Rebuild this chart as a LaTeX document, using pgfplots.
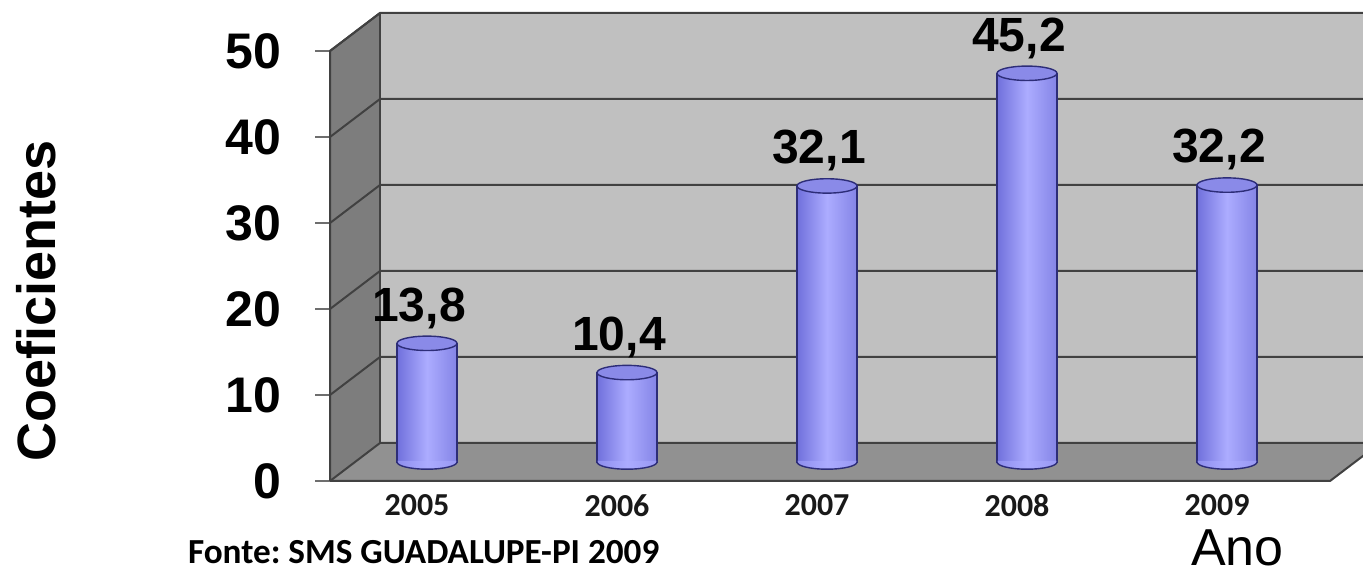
\documentclass[border=0pt]{standalone}
\usepackage{fontspec}
\setmainfont{Liberation Sans}
\newfontfamily\carlito{Carlito}
\usepackage{pgfplots}
\usepackage{pgfplotstable}
\pgfplotsset{compat=1.18}

\definecolor{backwall}{RGB}{192,192,192}
\definecolor{sidewall}{RGB}{125,125,125}
\definecolor{floorc}{RGB}{145,145,145}
\definecolor{gridc}{RGB}{65,65,65}
\definecolor{tickc}{RGB}{110,110,110}
\definecolor{cylL}{RGB}{112,112,220}
\definecolor{cylM}{RGB}{172,172,255}
\definecolor{cylR}{RGB}{132,132,230}
\definecolor{cyltopc}{RGB}{138,138,232}
\definecolor{cyledge}{RGB}{45,45,120}

\pgfdeclarehorizontalshading{cylsh}{100bp}{color(0bp)=(cylL); color(50bp)=(cylM); color(100bp)=(cylR)}

\pgfdeclareplotmark{cyltop}{%
  \pgfpathellipse{\pgfpointorigin}{\pgfqpoint{15pt}{0pt}}{\pgfqpoint{0pt}{3.6pt}}%
  \pgfusepathqfillstroke}
\pgfdeclareplotmark{cylbot}{%
  \pgfpathmoveto{\pgfqpoint{-15pt}{0.6pt}}%
  \pgfpathlineto{\pgfqpoint{-15pt}{0pt}}%
  \pgfpatharc{180}{360}{15pt and 3.6pt}%
  \pgfpathlineto{\pgfqpoint{15pt}{0.6pt}}%
  \pgfpathclose
  \pgfshadepath{cylsh}{0}%
  \pgfusepath{discard}%
  \pgfpathmoveto{\pgfqpoint{-15pt}{0.6pt}}%
  \pgfpathlineto{\pgfqpoint{-15pt}{0pt}}%
  \pgfpatharc{180}{360}{15pt and 3.6pt}%
  \pgfpathlineto{\pgfqpoint{15pt}{0.6pt}}%
  \pgfusepathqstroke}

\pgfplotstableread{
x y base lab
0 13.8 0 {13,8}
1 10.4 0 {10,4}
2 32.1 0 {32,1}
3 45.2 0 {45,2}
4 32.2 0 {32,2}
}\datatable

\pgfplotsset{cyl/.style={ybar, bar width=30pt, draw=cyledge, line width=0.7pt, left color=cylL, right color=cylR, middle color=cylM}}

\begin{document}
\begin{tikzpicture}
\useasboundingbox (0,0) rectangle (681.5pt,288.5pt);
\begin{axis}[
  at={(177.5pt,57.5pt)}, anchor=south west,
  scale only axis, width=500pt, height=215pt,
  xmin=-0.36, xmax=4.64, ymin=0, ymax=50,
  clip=false,
  axis line style={draw=none},
  major tick length=0pt, tick style={draw=none},
  xtick={0,1,2,3,4}, xticklabels={2005,2006,2007,2008,2009},
  ytick={0,10,20,30,40,50}, yticklabels={0,10,20,30,40,50},
  /pgf/number format/assume math mode=true,
  xticklabel style={font=\carlito\bfseries\fontsize{16}{19}\selectfont, inner sep=0pt, anchor=north, yshift=-16pt, xshift=-5pt, text=black!90},
  yticklabel style={font=\bfseries\fontsize{25}{30}\selectfont, inner sep=0pt, anchor=east, xshift=-36.5pt, yshift=-9.5pt},
  ylabel={Coeficientes},
  every axis y label/.style={at={([xshift=-159.5pt,yshift=-27pt]rel axis cs:0,0.5)}, anchor=center, rotate=90, font=\bfseries\fontsize{27}{32}\selectfont},
  xlabel={Ano},
  every axis x label/.style={at={([yshift=-52pt]rel axis cs:0.829,0)}, anchor=base west, font=\fontsize{26}{31}\selectfont},
]
% back wall
\fill[backwall] ([shift={(12.5pt,9.5pt)}]axis cs:-0.36,0) rectangle ([shift={(12.5pt,9.5pt)}]axis cs:4.64,50);
% side wall
\fill[sidewall] ([shift={(-12.5pt,-9.5pt)}]axis cs:-0.36,0) -- ([shift={(-12.5pt,-9.5pt)}]axis cs:-0.36,50) -- ([shift={(12.5pt,9.5pt)}]axis cs:-0.36,50) -- ([shift={(12.5pt,9.5pt)}]axis cs:-0.36,0) -- cycle;
% floor
\fill[floorc] ([shift={(-12.5pt,-9.5pt)}]axis cs:-0.36,0) -- ([shift={(-12.5pt,-9.5pt)}]axis cs:4.64,0) -- ([shift={(12.5pt,9.5pt)}]axis cs:4.64,0) -- ([shift={(12.5pt,9.5pt)}]axis cs:-0.36,0) -- cycle;
% grid lines (side wall diagonal + back wall horizontal)
\draw[gridc, line width=1pt] ([shift={(-12.5pt,-9.5pt)}]axis cs:-0.36,0) -- ([shift={(12.5pt,9.5pt)}]axis cs:-0.36,0) -- ([shift={(12.5pt,9.5pt)}]axis cs:4.64,0);
\draw[gridc, line width=1pt] ([shift={(-12.5pt,-9.5pt)}]axis cs:-0.36,10) -- ([shift={(12.5pt,9.5pt)}]axis cs:-0.36,10) -- ([shift={(12.5pt,9.5pt)}]axis cs:4.64,10);
\draw[gridc, line width=1pt] ([shift={(-12.5pt,-9.5pt)}]axis cs:-0.36,20) -- ([shift={(12.5pt,9.5pt)}]axis cs:-0.36,20) -- ([shift={(12.5pt,9.5pt)}]axis cs:4.64,20);
\draw[gridc, line width=1pt] ([shift={(-12.5pt,-9.5pt)}]axis cs:-0.36,30) -- ([shift={(12.5pt,9.5pt)}]axis cs:-0.36,30) -- ([shift={(12.5pt,9.5pt)}]axis cs:4.64,30);
\draw[gridc, line width=1pt] ([shift={(-12.5pt,-9.5pt)}]axis cs:-0.36,40) -- ([shift={(12.5pt,9.5pt)}]axis cs:-0.36,40) -- ([shift={(12.5pt,9.5pt)}]axis cs:4.64,40);
\draw[gridc, line width=1pt] ([shift={(-12.5pt,-9.5pt)}]axis cs:-0.36,50) -- ([shift={(12.5pt,9.5pt)}]axis cs:-0.36,50) -- ([shift={(12.5pt,9.5pt)}]axis cs:4.64,50);
% tick marks on the front edge
\draw[tickc, line width=1pt] ([shift={(-20pt,-9.5pt)}]axis cs:-0.36,0) -- ([shift={(-12.5pt,-9.5pt)}]axis cs:-0.36,0);
\draw[tickc, line width=1pt] ([shift={(-20pt,-9.5pt)}]axis cs:-0.36,10) -- ([shift={(-12.5pt,-9.5pt)}]axis cs:-0.36,10);
\draw[tickc, line width=1pt] ([shift={(-20pt,-9.5pt)}]axis cs:-0.36,20) -- ([shift={(-12.5pt,-9.5pt)}]axis cs:-0.36,20);
\draw[tickc, line width=1pt] ([shift={(-20pt,-9.5pt)}]axis cs:-0.36,30) -- ([shift={(-12.5pt,-9.5pt)}]axis cs:-0.36,30);
\draw[tickc, line width=1pt] ([shift={(-20pt,-9.5pt)}]axis cs:-0.36,40) -- ([shift={(-12.5pt,-9.5pt)}]axis cs:-0.36,40);
\draw[tickc, line width=1pt] ([shift={(-20pt,-9.5pt)}]axis cs:-0.36,50) -- ([shift={(-12.5pt,-9.5pt)}]axis cs:-0.36,50);
% edges
\draw[gridc, line width=1pt] ([shift={(-12.5pt,-9.5pt)}]axis cs:-0.36,0) -- ([shift={(-12.5pt,-9.5pt)}]axis cs:-0.36,50) -- ([shift={(12.5pt,9.5pt)}]axis cs:-0.36,50);
\draw[gridc, line width=1pt] ([shift={(12.5pt,9.5pt)}]axis cs:-0.36,0) -- ([shift={(12.5pt,9.5pt)}]axis cs:-0.36,50);
\draw[gridc, line width=1pt] ([shift={(-12.5pt,-9.5pt)}]axis cs:-0.36,0) -- ([shift={(-12.5pt,-9.5pt)}]axis cs:4.64,0) -- ([shift={(12.5pt,9.5pt)}]axis cs:4.64,0);

% cylinder bodies, one path per bar so each gets its own shading
\addplot[cyl] table[x=x, y=y, skip coords between index={1}{5}] {\datatable};
\addplot[cyl] table[x=x, y=y, skip coords between index={0}{1}, skip coords between index={2}{5}] {\datatable};
\addplot[cyl] table[x=x, y=y, skip coords between index={0}{2}, skip coords between index={3}{5}] {\datatable};
\addplot[cyl] table[x=x, y=y, skip coords between index={0}{3}, skip coords between index={4}{5}] {\datatable};
\addplot[cyl] table[x=x, y=y, skip coords between index={0}{4}] {\datatable};
% cylinder bottoms and tops
\addplot[only marks, mark=cylbot, mark options={draw=cyledge, line width=0.7pt}]
  table[x=x, y=base] {\datatable};
\addplot[only marks, mark=cyltop, mark options={draw=cyledge, fill=cyltopc, line width=0.7pt},
  point meta=explicit symbolic, nodes near coords,
  every node near coord/.append style={font=\bfseries\fontsize{24}{29}\selectfont, inner sep=0pt, anchor=south, yshift=7pt, xshift=-4pt, text=black}]
  table[x=x, y=y, meta=lab] {\datatable};

\node[anchor=base west, font=\carlito\bfseries\fontsize{17.6}{21}\selectfont] at ([yshift=-50.5pt]rel axis cs:-0.174,0) {\frenchspacing Fonte: SMS GUADALUPE-PI 2009};
\end{axis}
\end{tikzpicture}
\end{document}
